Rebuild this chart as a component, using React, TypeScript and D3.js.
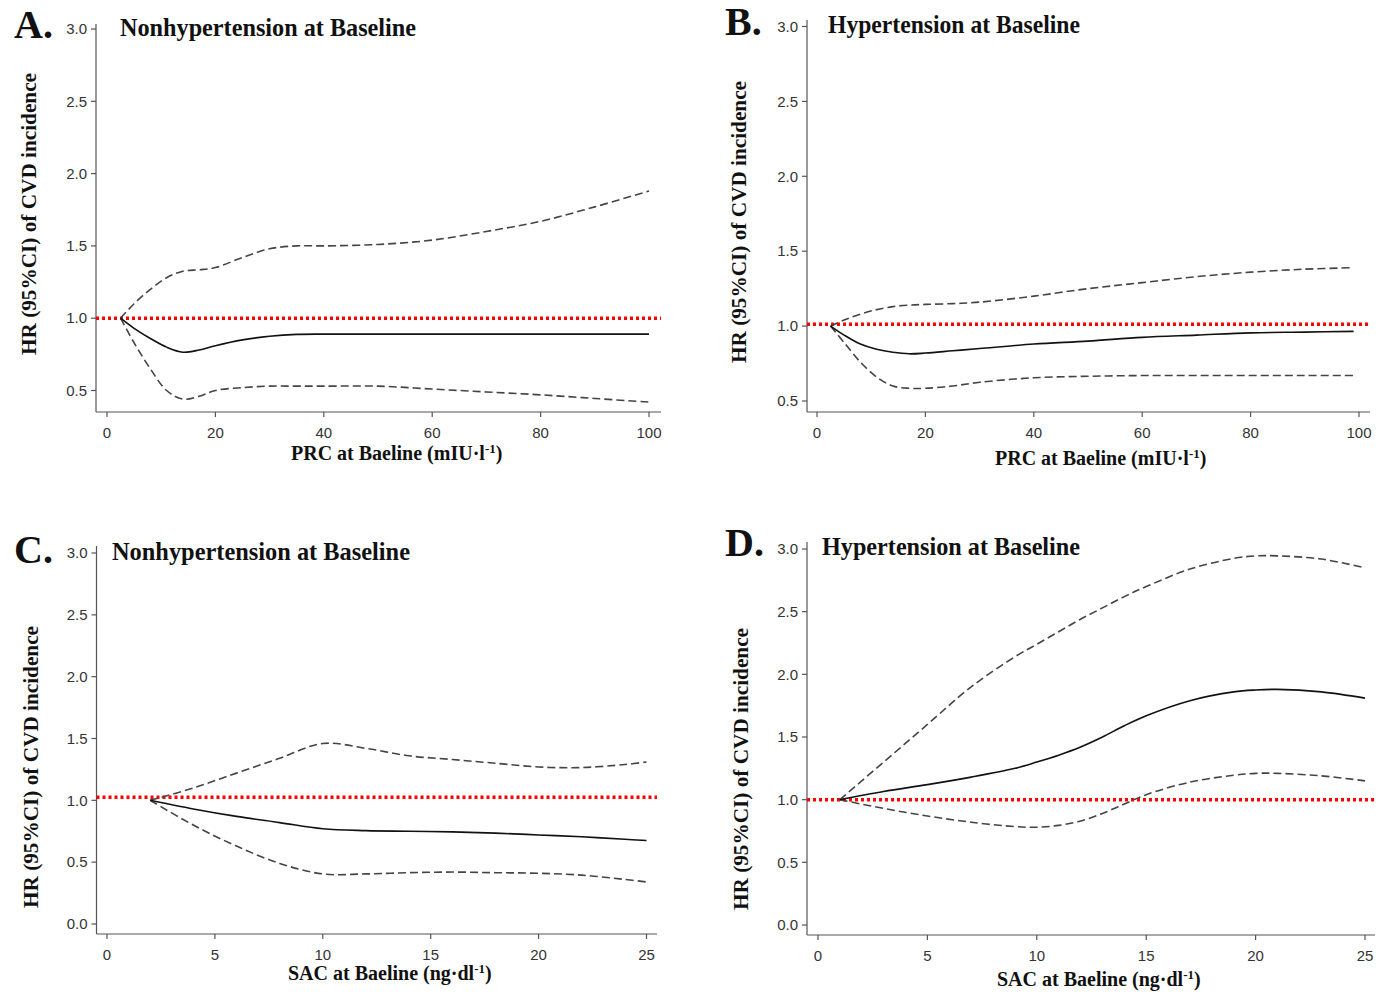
import React from 'react';
import * as d3 from 'd3';

// HR curves (restricted cubic spline style plots)
const prcXA = [2.5, 5, 8, 11, 14, 17, 20, 25, 30, 35, 40, 50, 60, 70, 80, 90, 100];
const hrA = [1.0, 0.93, 0.86, 0.8, 0.765, 0.78, 0.81, 0.85, 0.875, 0.888, 0.89, 0.89, 0.89, 0.89, 0.89, 0.89, 0.89];
const upperA = [1.0, 1.1, 1.2, 1.28, 1.325, 1.335, 1.35, 1.42, 1.48, 1.5, 1.5, 1.51, 1.54, 1.6, 1.67, 1.77, 1.88];
const lowerA = [1.0, 0.83, 0.65, 0.5, 0.44, 0.46, 0.5, 0.52, 0.53, 0.53, 0.53, 0.53, 0.51, 0.49, 0.47, 0.445, 0.42];

const prcXB = [2.5, 5, 8, 11, 14, 17, 20, 25, 30, 40, 50, 60, 70, 80, 90, 99];
const hrB = [1.0, 0.94, 0.88, 0.845, 0.825, 0.815, 0.82, 0.835, 0.85, 0.88, 0.9, 0.925, 0.94, 0.955, 0.96, 0.965];
const upperB = [1.0, 1.04, 1.08, 1.11, 1.13, 1.14, 1.145, 1.15, 1.16, 1.2, 1.25, 1.29, 1.33, 1.36, 1.38, 1.39];
const lowerB = [1.0, 0.89, 0.76, 0.66, 0.6, 0.585, 0.585, 0.6, 0.625, 0.655, 0.665, 0.67, 0.67, 0.67, 0.67, 0.67];

const sacXC = [2, 4, 6, 8, 10, 12, 14, 16, 18, 20, 22, 24, 25];
const hrC = [1.0, 0.93, 0.87, 0.82, 0.77, 0.755, 0.75, 0.745, 0.735, 0.72, 0.705, 0.685, 0.675];
const upperC = [1.0, 1.1, 1.22, 1.34, 1.46, 1.42, 1.36, 1.33, 1.3, 1.27, 1.265, 1.29, 1.31];
const lowerC = [1.0, 0.8, 0.63, 0.49, 0.405, 0.405, 0.415, 0.42, 0.415, 0.41, 0.395, 0.36, 0.34];

const sacXD = [1, 3, 5, 7, 9, 10, 11, 12, 13, 14, 15, 17, 19, 20, 21, 23, 25];
const hrD = [1.0, 1.065, 1.12, 1.18, 1.25, 1.3, 1.355, 1.42, 1.5, 1.59, 1.67, 1.79, 1.86, 1.875, 1.88, 1.86, 1.81];
const upperD = [1.0, 1.3, 1.6, 1.9, 2.14, 2.24, 2.34, 2.44, 2.53, 2.62, 2.7, 2.84, 2.925, 2.945, 2.945, 2.92, 2.85];
const lowerD = [1.0, 0.93, 0.87, 0.82, 0.785, 0.78, 0.795, 0.83, 0.89, 0.965, 1.04, 1.14, 1.195, 1.21, 1.21, 1.19, 1.15];

const prcTicks = [0, 20, 40, 60, 80, 100];
const sacTicks = [0, 5, 10, 15, 20, 25];
const yTicksTop = [0.5, 1.0, 1.5, 2.0, 2.5, 3.0];
const yTicksBottom = [0.0, 0.5, 1.0, 1.5, 2.0, 2.5, 3.0];

const panelLetters = ['A.', 'B.', 'C.', 'D.'];
const panelTitles = ['Nonhypertension at Baseline', 'Hypertension at Baseline', 'Nonhypertension at Baseline', 'Hypertension at Baseline'];
const refLines = [1.0, 1.012, 1.025, 1.0];

const serif = '"Liberation Serif", "Times New Roman", serif';
const sans = '"Liberation Sans", Arial, sans-serif';

type PanelProps = {
  idx: number;
  xs: number[];
  hr: number[];
  lo: number[];
  hi: number[];
  xTicks: number[];
  yTicks: number[];
  xDom: [number, number];
  xRange: [number, number];
  yDom: [number, number];
  yRange: [number, number];
  axisLeft: number;
  axisRight: number;
  axisTop: number;
  axisBottom: number;
  unit: string;
  xLabelLead: string;
  xLabelPos: [number, number];
  yLabelPos: [number, number];
  letterPos: [number, number];
  titlePos: [number, number, number];
};

const Panel = (p: PanelProps) => {
  const x = d3.scaleLinear().domain(p.xDom).range(p.xRange);
  const y = d3.scaleLinear().domain(p.yDom).range(p.yRange);
  const line = d3.line<number>()
    .x((_, i) => x(p.xs[i]))
    .y(d => y(d))
    .curve(d3.curveCatmullRom.alpha(0.5));
  const refY = y(refLines[p.idx]);

  return (
    <g>
      {/* axes */}
      <line x1={p.axisLeft} x2={p.axisLeft} y1={p.axisTop} y2={p.axisBottom} stroke="#555" strokeWidth={1.2} />
      <line x1={p.axisLeft} x2={p.axisRight} y1={p.axisBottom} y2={p.axisBottom} stroke="#555" strokeWidth={1.2} />
      {p.yTicks.map(t => (
        <g key={'y' + t}>
          <line x1={p.axisLeft - 5} x2={p.axisLeft} y1={y(t)} y2={y(t)} stroke="#555" strokeWidth={1.2} />
          <text x={p.axisLeft - 9} y={y(t)} dy="0.35em" textAnchor="end" fontFamily={sans} fontSize={15} fill="#333">
            {d3.format('.1f')(t)}
          </text>
        </g>
      ))}
      {p.xTicks.map(t => (
        <g key={'x' + t}>
          <line x1={x(t)} x2={x(t)} y1={p.axisBottom} y2={p.axisBottom + 5} stroke="#555" strokeWidth={1.2} />
          <text x={x(t)} y={p.axisBottom + 26} textAnchor="middle" fontFamily={sans} fontSize={15} fill="#333">
            {t}
          </text>
        </g>
      ))}

      {/* reference line at HR = 1 */}
      <line x1={p.axisLeft} x2={p.axisRight} y1={refY} y2={refY} stroke="#ff0000" strokeWidth={3.5} strokeDasharray="3 3" />

      {/* curves */}
      <path d={line(p.hi) || ''} fill="none" stroke="#444" strokeWidth={1.6} strokeDasharray="8 4" />
      <path d={line(p.lo) || ''} fill="none" stroke="#444" strokeWidth={1.6} strokeDasharray="8 4" />
      <path d={line(p.hr) || ''} fill="none" stroke="#111" strokeWidth={1.6} />

      {/* labels */}
      <text x={p.letterPos[0]} y={p.letterPos[1]} fontFamily={serif} fontWeight="bold" fontSize={40} fill="#111">
        {panelLetters[p.idx]}
      </text>
      <text x={p.titlePos[0]} y={p.titlePos[1]} fontFamily={serif} fontWeight="bold" fontSize={25} fill="#111"
        textLength={p.titlePos[2]} lengthAdjust="spacingAndGlyphs">
        {panelTitles[p.idx]}
      </text>
      <text transform={`translate(${p.yLabelPos[0]},${p.yLabelPos[1]}) rotate(-90)`} textAnchor="middle"
        fontFamily={serif} fontWeight="bold" fontSize={20} fill="#111" textLength={282} lengthAdjust="spacingAndGlyphs">
        HR (95%CI) of  CVD incidence
      </text>
      <text x={p.xLabelPos[0]} y={p.xLabelPos[1]} fontFamily={serif} fontWeight="bold" fontSize={20} fill="#111">
        {p.xLabelLead} at Baeline ({p.unit}
        <tspan dy={-7} fontSize={13}>-1</tspan>
        <tspan dy={7}>)</tspan>
      </text>
    </g>
  );
};

export default function App() {
  return (
    <svg width={1379} height={993} style={{ position: 'absolute', left: 0, top: 0, background: '#fff' }}>
      <rect width={1379} height={993} fill="#fff" />
      <Panel idx={0} xs={prcXA} hr={hrA} lo={lowerA} hi={upperA} xTicks={prcTicks} yTicks={yTicksTop}
        xDom={[0, 100]} xRange={[107, 649]} yDom={[0.5, 3.0]} yRange={[390.5, 29]}
        axisLeft={96} axisRight={661} axisTop={24} axisBottom={412}
        unit="mIU·l" xLabelLead="PRC" xLabelPos={[291, 460]} yLabelPos={[36, 214]}
        letterPos={[14, 38]} titlePos={[120, 36, 296]} />
      <Panel idx={1} xs={prcXB} hr={hrB} lo={lowerB} hi={upperB} xTicks={prcTicks} yTicks={yTicksTop}
        xDom={[0, 100]} xRange={[817, 1359]} yDom={[0.5, 3.0]} yRange={[401, 26.5]}
        axisLeft={807} axisRight={1370} axisTop={20} axisBottom={412}
        unit="mIU·l" xLabelLead="PRC" xLabelPos={[995, 465]} yLabelPos={[746, 222]}
        letterPos={[725, 35]} titlePos={[828, 33, 252]} />
      <Panel idx={2} xs={sacXC} hr={hrC} lo={lowerC} hi={upperC} xTicks={sacTicks} yTicks={yTicksBottom}
        xDom={[0, 25]} xRange={[107, 646.5]} yDom={[0, 3.0]} yRange={[924, 553]}
        axisLeft={96.5} axisRight={657} axisTop={546} axisBottom={934}
        unit="ng·dl" xLabelLead="SAC" xLabelPos={[288, 980]} yLabelPos={[38, 767]}
        letterPos={[14, 563]} titlePos={[112, 560, 298]} />
      <Panel idx={3} xs={sacXD} hr={hrD} lo={lowerD} hi={upperD} xTicks={sacTicks} yTicks={yTicksBottom}
        xDom={[0, 25]} xRange={[818, 1365]} yDom={[0, 3.0]} yRange={[925, 549]}
        axisLeft={807} axisRight={1375} axisTop={542} axisBottom={935}
        unit="ng·dl" xLabelLead="SAC" xLabelPos={[997, 986]} yLabelPos={[748, 769]}
        letterPos={[725, 556]} titlePos={[822, 555, 258]} />
    </svg>
  );
}
